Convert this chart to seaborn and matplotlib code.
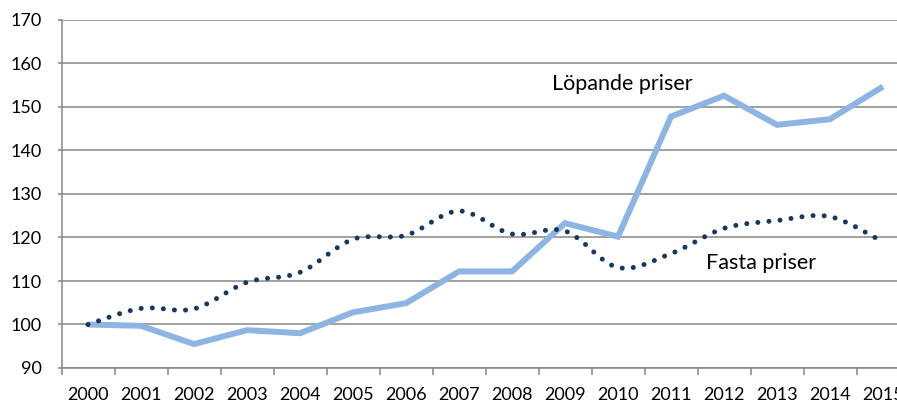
import numpy as np
import pandas as pd
import matplotlib
matplotlib.use("Agg")
import matplotlib.pyplot as plt
from matplotlib.path import Path
from matplotlib.patches import PathPatch
import seaborn as sns

years = [str(y) for y in range(2000, 2016)]
lopande = [100.0, 99.7, 95.5, 98.7, 98.0, 102.8, 104.9, 112.2, 112.2, 123.3, 120.2,
           147.8, 152.6, 145.9, 147.2, 154.7]
fasta = [100.0, 103.7, 103.6, 109.7, 112.0, 119.6, 120.5, 126.1, 120.8, 121.5, 113.1,
         116.3, 122.1, 123.9, 124.8, 119.0]
yticks = [90, 100, 110, 120, 130, 140, 150, 160, 170]
label_lopande = "Löpande priser"
label_fasta = "Fasta priser"

sns.set_theme(style="white")
plt.rcParams['font.family'] = ['Lato', 'DejaVu Sans']
plt.rcParams['lines.scale_dashes'] = False

fig = plt.figure(figsize=(8.97, 4.03), dpi=100)
ax = fig.add_axes([61.5 / 897, 35 / 403, 848 / 897, 348 / 403])

x = np.arange(len(years))
df = pd.DataFrame({"x": x, "Löpande": lopande, "Fasta": fasta})

sns.lineplot(data=df, x="x", y="Löpande", ax=ax, color="#8DB4E2", linewidth=4.3,
             solid_capstyle="butt", solid_joinstyle="miter", zorder=3)

# smoothed (Excel-style) curve for the dotted series
px = np.asarray(x, dtype=float)
py = np.asarray(fasta, dtype=float)
verts = [(px[0], py[0])]
codes = [Path.MOVETO]
n = len(px)
for i in range(n - 1):
    p0 = np.array([px[max(i - 1, 0)], py[max(i - 1, 0)]])
    p1 = np.array([px[i], py[i]])
    p2 = np.array([px[i + 1], py[i + 1]])
    p3 = np.array([px[min(i + 2, n - 1)], py[min(i + 2, n - 1)]])
    c1 = p1 + (p2 - p0) / 6.0
    c2 = p2 - (p3 - p1) / 6.0
    verts += [tuple(c1), tuple(c2), tuple(p2)]
    codes += [Path.CURVE4] * 3
patch = PathPatch(Path(verts, codes), fill=False, edgecolor="#17375E",
                  linewidth=3.6, linestyle=(0, (0.01, 8.0)), capstyle="round",
                  zorder=4, clip_on=False)
ax.add_patch(patch)

ax.set_xlim(-0.5, len(years) - 0.5)
ax.set_ylim(90, 170)
ax.set_yticks(yticks)
ax.set_yticklabels([str(v) for v in yticks])
ax.set_xticks(x)
ax.set_xticklabels(years)
ax.set_xticks(np.arange(len(years) + 1) - 0.5, minor=True)

ax.grid(axis="y", color="#868686", linewidth=1.1)
ax.grid(axis="x", visible=False)
ax.set_axisbelow(True)
for s in ["top", "right"]:
    ax.spines[s].set_visible(False)
for s in ["left", "bottom"]:
    ax.spines[s].set_visible(True)
    ax.spines[s].set_color("#868686")
    ax.spines[s].set_linewidth(1.1)

ax.tick_params(axis="y", which="major", left=True, length=3, width=1.1, color="#868686",
               pad=11, labelsize=13, labelcolor="black")
ax.tick_params(axis="x", which="major", bottom=False, length=0, pad=14, labelsize=13,
               labelcolor="black")
ax.tick_params(axis="x", which="minor", bottom=True, length=5, width=1.1, color="#868686")
ax.set_xlabel("")
ax.set_ylabel("")

ax.text(10.09, 155.3, label_lopande, ha="center", va="center", fontsize=15.5, color="black")
ax.text(12.7, 114.1, label_fasta, ha="center", va="center", fontsize=15.5, color="black")

fig.savefig("out.png", dpi=100)
